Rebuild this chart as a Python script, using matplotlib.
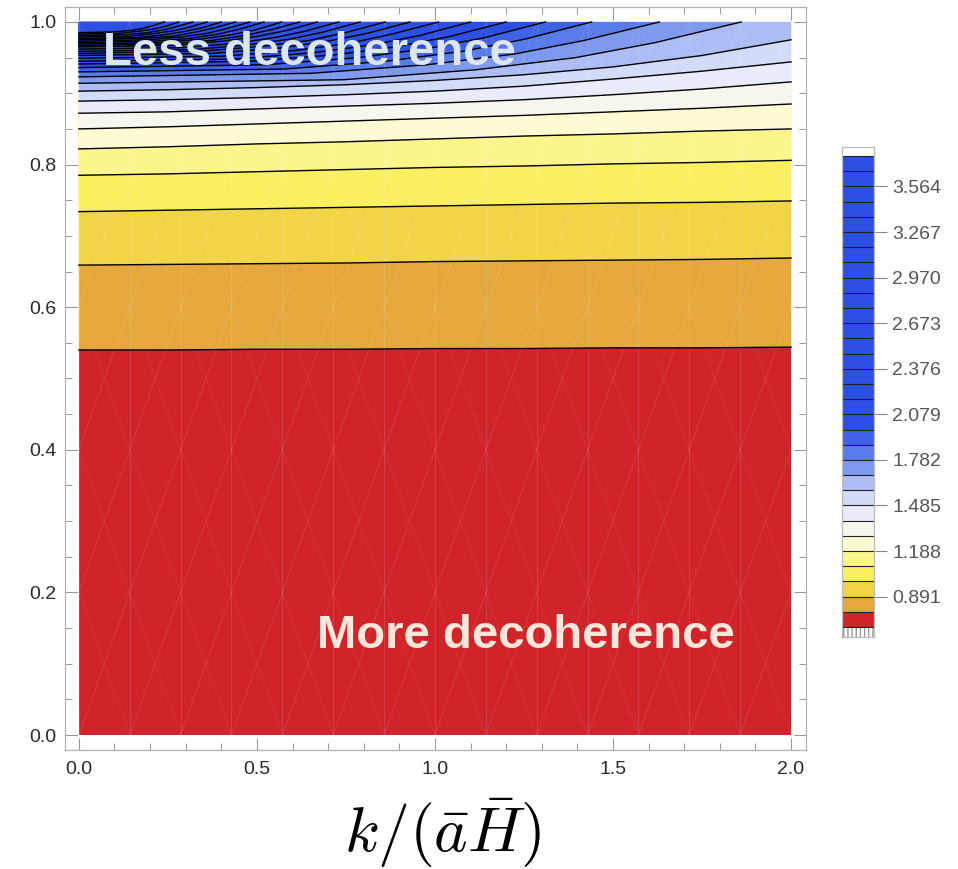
import matplotlib
matplotlib.use("Agg")
import matplotlib.pyplot as plt
import numpy as np
from matplotlib.patches import Rectangle, Polygon

# contour levels (colorbar cells are 0.099 wide, from 0.693 up to 3.762)
level_start = 0.693
level_step = 0.099
n_cells = 31
cb_ticks = [0.891, 1.188, 1.485, 1.782, 2.079, 2.376, 2.673, 2.970, 3.267, 3.564]
cb_tick_labels = ["0.891", "1.188", "1.485", "1.782", "2.079", "2.376", "2.673", "2.970", "3.267", "3.564"]

# band colours, lowest band first (the rest of the bands are the deep blue)
band_colors = ["#d1232a", "#e6a83c", "#f1d546", "#faef60", "#fcf58c", "#fdfbd2",
               "#f6f6ee", "#e8ebfa", "#d2dbf8", "#abbdf4", "#7e9aee", "#5a7bea",
               "#3f63e6"]
deep_blue = "#2c4fe4"

# lower contour lines (0.792 ... 1.584), read at these x positions
xs_full = [0, 0.25, 0.5, 0.75, 1.0, 1.25, 1.5, 1.75, 2.0]
lines_full = [
    [0.540, 0.540, 0.541, 0.541, 0.542, 0.542, 0.543, 0.543, 0.544],
    [0.659, 0.660, 0.661, 0.662, 0.664, 0.665, 0.666, 0.667, 0.669],
    [0.734, 0.736, 0.738, 0.740, 0.742, 0.744, 0.746, 0.747, 0.749],
    [0.785, 0.787, 0.790, 0.793, 0.796, 0.798, 0.801, 0.803, 0.806],
    [0.822, 0.825, 0.829, 0.832, 0.836, 0.840, 0.843, 0.847, 0.850],
    [0.850, 0.853, 0.857, 0.861, 0.865, 0.869, 0.874, 0.879, 0.885],
    [0.872, 0.874, 0.878, 0.882, 0.886, 0.891, 0.898, 0.906, 0.916],
    [0.889, 0.891, 0.894, 0.898, 0.903, 0.910, 0.920, 0.931, 0.944],
    [0.903, 0.905, 0.908, 0.912, 0.918, 0.926, 0.937, 0.953, 0.975],
]

# upper contour lines (1.683 ... 3.762) which run into the top edge
lines_top_x = [
    [0, 0.744, 1.116, 1.395, 1.618, 1.86],
    [0, 0.652, 0.978, 1.223, 1.418, 1.63],
    [0, 0.576, 0.864, 1.080, 1.253, 1.44],
    [0, 0.524, 0.786, 0.983, 1.140, 1.31],
    [0, 0.480, 0.720, 0.900, 1.044, 1.20],
    [0, 0.440, 0.660, 0.825, 0.957, 1.10],
    [0, 0.404, 0.606, 0.758, 0.879, 1.01],
    [0, 0.372, 0.558, 0.698, 0.809, 0.93],
    [0, 0.344, 0.516, 0.645, 0.748, 0.86],
    [0, 0.316, 0.474, 0.593, 0.687, 0.79],
    [0, 0.292, 0.438, 0.548, 0.635, 0.73],
    [0, 0.268, 0.402, 0.503, 0.583, 0.67],
    [0, 0.248, 0.372, 0.465, 0.539, 0.62],
    [0, 0.228, 0.342, 0.428, 0.496, 0.57],
    [0, 0.208, 0.312, 0.390, 0.452, 0.52],
    [0, 0.192, 0.288, 0.360, 0.418, 0.48],
    [0, 0.176, 0.264, 0.330, 0.383, 0.44],
    [0, 0.160, 0.240, 0.300, 0.348, 0.40],
    [0, 0.144, 0.216, 0.270, 0.313, 0.36],
    [0, 0.128, 0.192, 0.240, 0.278, 0.32],
    [0, 0.112, 0.168, 0.210, 0.244, 0.28],
    [0, 0.096, 0.144, 0.180, 0.209, 0.24],
]
lines_top_y = [
    [0.914, 0.919, 0.933, 0.950, 0.971, 1.0],
    [0.923, 0.928, 0.940, 0.955, 0.974, 1.0],
    [0.930, 0.934, 0.945, 0.959, 0.976, 1.0],
    [0.936, 0.940, 0.950, 0.963, 0.978, 1.0],
    [0.941, 0.945, 0.954, 0.966, 0.980, 1.0],
    [0.945, 0.948, 0.957, 0.968, 0.981, 1.0],
    [0.949, 0.952, 0.960, 0.970, 0.983, 1.0],
    [0.953, 0.956, 0.963, 0.973, 0.984, 1.0],
    [0.956, 0.959, 0.966, 0.974, 0.985, 1.0],
    [0.959, 0.961, 0.968, 0.976, 0.986, 1.0],
    [0.962, 0.964, 0.970, 0.978, 0.987, 1.0],
    [0.965, 0.967, 0.973, 0.980, 0.988, 1.0],
    [0.967, 0.969, 0.974, 0.981, 0.989, 1.0],
    [0.969, 0.971, 0.976, 0.982, 0.989, 1.0],
    [0.971, 0.973, 0.977, 0.983, 0.990, 1.0],
    [0.973, 0.975, 0.979, 0.984, 0.991, 1.0],
    [0.975, 0.977, 0.980, 0.986, 0.992, 1.0],
    [0.977, 0.978, 0.982, 0.987, 0.992, 1.0],
    [0.979, 0.980, 0.984, 0.988, 0.993, 1.0],
    [0.981, 0.982, 0.985, 0.989, 0.994, 1.0],
    [0.983, 0.984, 0.987, 0.990, 0.994, 1.0],
    [0.985, 0.986, 0.988, 0.991, 0.995, 1.0],
]

x_ticks = [0.0, 0.5, 1.0, 1.5, 2.0]
y_ticks = [0.0, 0.2, 0.4, 0.6, 0.8, 1.0]

plt.rcParams['font.family'] = ['Liberation Sans', 'DejaVu Sans']
plt.rcParams['mathtext.fontset'] = 'cm'

fig = plt.figure(figsize=(9.58, 8.69), dpi=100)
W, H = 958.0, 869.0
ax = fig.add_axes([65 / W, 1 - 750 / H, (806 - 65) / W, (750 - 7) / H])
ax.set_xlim(-0.039, 2.042)
ax.set_ylim(-0.021, 1.021)


def band_color(i):
    return band_colors[i] if i < len(band_colors) else deep_blue


# lowest band fills the whole region, every line then paints the band above it
ax.add_patch(Rectangle((0, 0), 2, 1, facecolor=band_color(0), edgecolor='none', zorder=1))
k = 0
for ys in lines_full:
    k += 1
    pts = list(zip(xs_full, ys)) + [(2, 1), (0, 1)]
    ax.add_patch(Polygon(pts, closed=True, facecolor=band_color(k), edgecolor='none', zorder=1))
for xs, ys in zip(lines_top_x, lines_top_y):
    k += 1
    pts = list(zip(xs, ys)) + [(0, 1)]
    ax.add_patch(Polygon(pts, closed=True, facecolor=band_color(k), edgecolor='none', zorder=1))

# faint white triangulation mesh, like the rendering of the original
clip = Rectangle((0, 0), 2, 1, transform=ax.transData)
mesh_x = np.linspace(0, 2, 15)
for i in range(len(mesh_x) - 1):
    x0, x1 = mesh_x[i], mesh_x[i + 1]
    ln, = ax.plot([x0, x0], [0, 1], color='white', lw=0.6, alpha=0.14, zorder=1.5)
    for y0 in np.arange(-0.2, 1.0, 0.2):
        d, = ax.plot([x0, x1], [y0, y0 + 0.2], color='white', lw=0.6, alpha=0.12, zorder=1.5)
        d.set_clip_path(clip)
        d2, = ax.plot([x0, x1], [y0 + 0.2, y0], color='white', lw=0.6, alpha=0.08, zorder=1.5)
        d2.set_clip_path(clip)

for ys in lines_full:
    ax.plot(xs_full, ys, color='black', lw=1.0, zorder=2)
for xs, ys in zip(lines_top_x, lines_top_y):
    ax.plot(xs, ys, color='black', lw=1.0, zorder=2)

ax.text(0.067, 0.940, "Less decoherence", fontsize=34, fontweight='bold',
        color='#dde6f6', ha='left', va='baseline', zorder=3)
ax.text(0.669, 0.122, "More decoherence", fontsize=34, fontweight='bold',
        color='#fbe6da', ha='left', va='baseline', zorder=3)

ax.set_xticks(x_ticks)
ax.set_xticklabels([f"{v:.1f}" for v in x_ticks])
ax.set_yticks(y_ticks)
ax.set_yticklabels([f"{v:.1f}" for v in y_ticks])
ax.xaxis.set_minor_locator(matplotlib.ticker.MultipleLocator(0.1))
ax.yaxis.set_minor_locator(matplotlib.ticker.MultipleLocator(0.05))
ax.tick_params(which='both', direction='in', top=True, right=True, color='#999999',
               labelsize=14, labelcolor='#2a2a2a')
ax.tick_params(which='major', length=9, width=0.8)
ax.tick_params(which='minor', length=5, width=0.7)
ax.tick_params(axis='x', pad=8)
ax.tick_params(axis='y', pad=6)
for s in ax.spines.values():
    s.set_color('#b0b0b0')
    s.set_linewidth(0.9)

fig.text(443 / W, 1 - 833 / H, r"$k/(\bar{a}\bar{H})$", fontsize=46,
         ha='center', va='center')

# colorbar
cax = fig.add_axes([842 / W, 1 - 637 / H, 32 / W, 490 / H])
top_level = level_start + level_step * n_cells
cax.set_xlim(0, 1)
cax.set_ylim(level_start - 0.065, top_level + 0.059)
for i in range(n_cells):
    cax.add_patch(Rectangle((0, level_start + level_step * i), 1, level_step,
                            facecolor=band_color(i), edgecolor='none'))
cax.add_patch(Rectangle((0, top_level), 1, 0.059, facecolor='white', edgecolor='none'))
cax.add_patch(Rectangle((0, level_start - 0.065), 1, 0.065, facecolor='white',
                        edgecolor='#999999', hatch='||||', lw=0))
cax.hlines([level_start + level_step * i for i in range(n_cells + 1)], 0, 1,
           color='#222222', lw=0.8)
cax.set_xticks([])
cax.yaxis.tick_right()
cax.set_yticks(cb_ticks)
cax.set_yticklabels(cb_tick_labels)
cax.tick_params(axis='y', direction='out', length=9, width=0.8, color='#888888',
                labelsize=14, labelcolor='#555555', pad=4)
for s in cax.spines.values():
    s.set_color('#bbbbbb')
    s.set_linewidth(0.9)

fig.savefig("out.png", dpi=100)
